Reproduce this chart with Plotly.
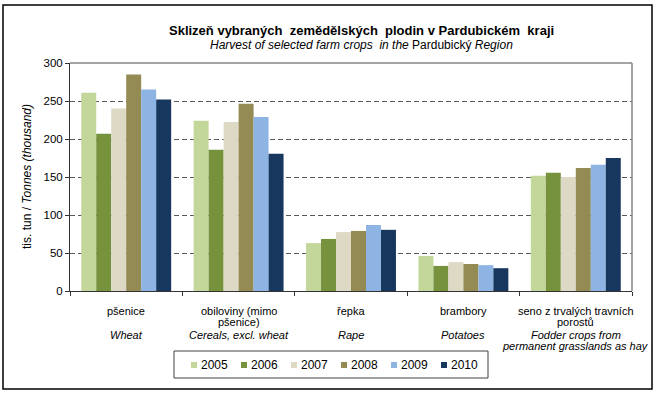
import plotly.graph_objects as go

categories = ["pšenice", "obiloviny", "řepka", "brambory", "seno"]
label_cz = [
    ["pšenice"],
    ["obiloviny (mimo", "pšenice)"],
    ["řepka"],
    ["brambory"],
    ["seno z trvalých travních", "porostů"],
]
label_en = [
    ["Wheat"],
    ["Cereals, excl. wheat"],
    ["Rape"],
    ["Potatoes"],
    ["Fodder crops from", "permanent grasslands as hay"],
]
years = ["2005", "2006", "2007", "2008", "2009", "2010"]
v2005 = [261, 224, 63, 46, 151.5]
v2006 = [207, 186, 68.5, 33, 155.5]
v2007 = [240, 222.5, 77.5, 38, 150]
v2008 = [285, 246.5, 79, 35.5, 162]
v2009 = [265, 229, 87, 34, 166]
v2010 = [252, 180.5, 80.5, 30, 175]
values = [v2005, v2006, v2007, v2008, v2009, v2010]
colors = ["#C4D79B", "#76923C", "#DDD9C4", "#948A54", "#8DB4E2", "#17375E"]

FONT = "Liberation Sans, Arial, sans-serif"

fig = go.Figure()
for y, vals, c in zip(years, values, colors):
    fig.add_trace(go.Bar(x=categories, y=vals, name=y, marker_color=c,
                         marker_line_width=0, showlegend=False))

L, R, T, B = 70, 632, 63, 291
W, H = 653, 393
def px(x):
    return (x - L) / (R - L)
def py(y):
    return (B - y) / (B - T)

shapes = [
    dict(type="line", xref="paper", yref="paper", x0=0, x1=1, y0=1, y1=1,
         line=dict(color="#868686", width=1.5), layer="above"),
    dict(type="line", xref="paper", yref="paper", x0=1, x1=1, y0=0, y1=1,
         line=dict(color="#868686", width=1.5), layer="above"),
    dict(type="rect", xref="paper", yref="paper", x0=px(3), x1=px(652), y0=py(389), y1=py(5),
         line=dict(color="black", width=1.5), fillcolor="rgba(0,0,0,0)", layer="above"),
    # legend box
    dict(type="rect", xref="paper", yref="paper", x0=px(174), x1=px(488), y0=py(378), y1=py(351),
         line=dict(color="#404040", width=1), fillcolor="white", layer="above"),
]
annotations = [
    dict(text="<b>Sklizeň vybraných  zemědělských  plodin v Pardubickém  kraji</b>",
         xref="paper", yref="paper", x=px(361), y=py(30), showarrow=False,
         xanchor="center", yanchor="middle", font=dict(size=13, family=FONT)),
    dict(text="<i>Harvest of selected farm crops  in the</i> Pardubický <i>Region</i>",
         xref="paper", yref="paper", x=px(361), y=py(45), showarrow=False,
         xanchor="center", yanchor="middle", font=dict(size=12, family=FONT)),
    dict(text="tis. tun / <i>Tonnes (thousand)</i>", textangle=-90,
         xref="paper", yref="paper", x=px(27), y=py(177), showarrow=False,
         xanchor="center", yanchor="middle", font=dict(size=12, family=FONT)),
]
# category labels, one annotation per line
LINE = 11.8
for cat, cz, en in zip(categories, label_cz, label_en):
    for j, t in enumerate(cz):
        annotations.append(dict(text=t, xref="x", yref="paper", x=cat, y=py(310.5 + j * LINE),
                                showarrow=False, xanchor="center", yanchor="middle",
                                font=dict(size=11, family=FONT)))
    for j, t in enumerate(en):
        annotations.append(dict(text="<i>" + t + "</i>", xref="x", yref="paper", x=cat,
                                y=py(334.5 + j * LINE), showarrow=False,
                                xanchor="center", yanchor="middle",
                                font=dict(size=11, family=FONT)))
# custom legend entries
for i, (yr, c) in enumerate(zip(years, colors)):
    x0 = 191 + 50 * i
    shapes.append(dict(type="rect", xref="paper", yref="paper", x0=px(x0), x1=px(x0 + 6),
                       y0=py(368), y1=py(362), line=dict(width=0), fillcolor=c, layer="above"))
    annotations.append(dict(text=yr, xref="paper", yref="paper", x=px(x0 + 8), y=py(365),
                            showarrow=False, xanchor="left", yanchor="middle",
                            font=dict(size=12, family=FONT)))

fig.update_layout(
    width=W, height=H,
    margin=dict(l=L, r=W - R, t=T, b=H - B, autoexpand=False),
    paper_bgcolor="white", plot_bgcolor="white",
    font=dict(family=FONT, size=11, color="black"),
    barmode="group", bargap=0.2, bargroupgap=0,
    showlegend=False,
    xaxis=dict(type="category", categoryorder="array", categoryarray=categories,
               range=[-0.5, len(categories) - 0.5], autorange=False,
               tickmode="array", tickvals=categories, showticklabels=False,
               tickson="boundaries", ticks="outside", ticklen=4, tickcolor="#333333",
               showline=True, linecolor="#333333", linewidth=1, showgrid=False,
               automargin=False),
    yaxis=dict(range=[0, 300], autorange=False, dtick=50, ticks="outside", ticklen=4,
               tickcolor="#333333",
               showline=True, linecolor="#333333", linewidth=1,
               showgrid=True, gridcolor="#595959", gridwidth=1, griddash="5px,3px",
               tickfont=dict(size=11.5, family=FONT), zeroline=False, automargin=False),
    shapes=shapes,
    annotations=annotations,
)

fig.write_html("out.html", post_script="document.body.style.margin='0';",
               config={"displayModeBar": False})
